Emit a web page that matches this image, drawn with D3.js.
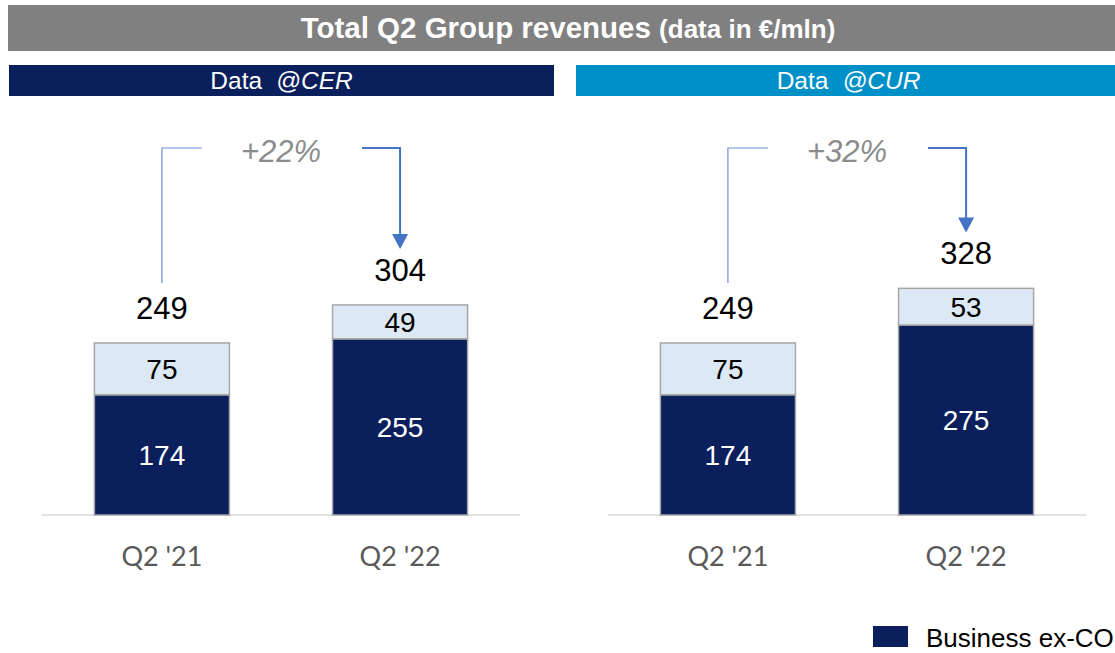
<!DOCTYPE html>
<html>
<head>
    <title>Total Q2 Group revenues</title>
    <style>
        body { margin: 0; background: #fff; }
        svg { display: block; font-family: "Liberation Sans", Arial, sans-serif; }
    </style>
    <script src="https://d3js.org/d3.v7.min.js"></script>
</head>
<body>
    <div id="chart"></div>
    <script>
        // values
        const categories = ["Q2 '21", "Q2 '22"];
        const panelTitles = ["CER", "CUR"];
        const businessCER = [174, 255];
        const otherCER = [75, 49];
        const businessCUR = [174, 275];
        const otherCUR = [75, 53];
        const growth = ["+22%", "+32%"];
        const legendLabels = ["Business ex-CO"];

        const width = 1115, height = 653;
        const svg = d3.select("#chart").append("svg")
            .attr("width", width)
            .attr("height", height);

        // title bar
        svg.append("rect").attr("x", 8).attr("y", 5).attr("width", width - 8).attr("height", 46).attr("fill", "#808080");
        const title = svg.append("text").attr("x", 568).attr("y", 38).attr("text-anchor", "middle")
            .attr("fill", "#fff").attr("font-weight", "bold");
        title.append("tspan").attr("font-size", 29.5).text("Total Q2 Group revenues ");
        title.append("tspan").attr("font-size", 26).text("(data in €/mln)");

        const panels = [
            { name: panelTitles[0], color: "#0a1f5c", x0: 9, x1: 554, off: 0, business: businessCER, other: otherCER, growth: growth[0] },
            { name: panelTitles[1], color: "#0090c8", x0: 576, x1: width, off: 566, business: businessCUR, other: otherCUR, growth: growth[1] }
        ];

        const baseline = 515;
        const y = d3.scaleLinear().domain([0, 330]).range([baseline, baseline - 228]);

        panels.forEach(p => {
            const g = svg.append("g");

            g.append("rect").attr("x", p.x0).attr("y", 65).attr("width", p.x1 - p.x0).attr("height", 31).attr("fill", p.color);
            const sub = g.append("text").attr("x", (p.x0 + p.x1) / 2 + (p.off ? 3 : 0)).attr("y", 89)
                .attr("text-anchor", "middle").attr("fill", "#fff").attr("font-size", 24.5);
            sub.append("tspan").text("Data");
            sub.append("tspan").attr("dx", 14).attr("font-style", "italic").text("@" + p.name);

            const x = d3.scaleBand().domain(categories)
                .range([42 + p.off, 520 + p.off])
                .paddingInner(0.433).paddingOuter(0.22);

            // axis line
            g.append("line").attr("x1", 42 + p.off).attr("x2", 520 + p.off)
                .attr("y1", baseline).attr("y2", baseline)
                .attr("stroke", "#d9d9d9").attr("stroke-width", 1.5);

            const rows = categories.map((c, i) => ({ cat: c, b: p.business[i], o: p.other[i], t: p.business[i] + p.other[i] }));

            // dark segment
            g.selectAll(".biz").data(rows).enter().append("rect")
                .attr("x", d => x(d.cat)).attr("width", x.bandwidth())
                .attr("y", d => y(d.b)).attr("height", d => y(0) - y(d.b))
                .attr("fill", "#0a1f5c").attr("stroke", "#a6a6a6").attr("stroke-width", 1.5);

            // light segment
            g.selectAll(".oth").data(rows).enter().append("rect")
                .attr("x", d => x(d.cat)).attr("width", x.bandwidth())
                .attr("y", d => y(d.t)).attr("height", d => y(d.b) - y(d.t))
                .attr("fill", "#dce8f4").attr("stroke", "#a6a6a6").attr("stroke-width", 1.5);

            const cx = d => x(d.cat) + x.bandwidth() / 2;

            g.selectAll(".bl").data(rows).enter().append("text")
                .attr("x", cx).attr("y", d => (y(d.b) + y(0)) / 2 + 10)
                .attr("text-anchor", "middle").attr("font-size", 28).attr("fill", "#fff")
                .text(d => d.b);
            g.selectAll(".ol").data(rows).enter().append("text")
                .attr("x", cx).attr("y", d => (y(d.t) + y(d.b)) / 2 + 10)
                .attr("text-anchor", "middle").attr("font-size", 28).attr("fill", "#000")
                .text(d => d.o);
            g.selectAll(".tl").data(rows).enter().append("text")
                .attr("x", cx).attr("y", d => y(d.t) - 24)
                .attr("text-anchor", "middle").attr("font-size", 31).attr("fill", "#000")
                .text(d => d.t);

            // category labels
            g.selectAll(".cat").data(rows).enter().append("text")
                .attr("x", cx).attr("y", 566)
                .attr("text-anchor", "middle").attr("font-size", 27).attr("fill", "#595959")
                .attr("font-family", "Lato, 'Open Sans', sans-serif")
                .text(d => d.cat);

            // growth bracket
            const xa = cx(rows[0]), xb = cx(rows[1]);
            const topY = 148;
            const mid = (xa + xb) / 2;
            g.append("path")
                .attr("d", `M${xa},${y(rows[0].t) - 60}V${topY}H${xa + 40}`)
                .attr("fill", "none").attr("stroke", "#6b8fd2").attr("stroke-width", 1.2);
            const tipY = y(rows[1].t) - 56;
            g.append("path")
                .attr("d", `M${xb - 38},${topY}H${xb}V${tipY - 14}`)
                .attr("fill", "none").attr("stroke", "#4472c4").attr("stroke-width", 2);
            g.append("path")
                .attr("d", `M${xb - 8},${tipY - 15}L${xb + 8},${tipY - 15}L${xb},${tipY}Z`)
                .attr("fill", "#4472c4");
            g.append("text").attr("x", mid).attr("y", 162)
                .attr("text-anchor", "middle").attr("font-size", 31).attr("font-style", "italic")
                .attr("fill", "#8c8c8c").text(p.growth);
        });

        // legend (cut at right edge as in the reference)
        const lg = svg.append("g");
        lg.append("rect").attr("x", 873).attr("y", 626).attr("width", 35).attr("height", 21).attr("fill", "#0a1f5c");
        lg.append("text").attr("x", 926).attr("y", 647).attr("font-size", 26).attr("fill", "#000").text(legendLabels[0]);
    </script>
</body>
</html>
